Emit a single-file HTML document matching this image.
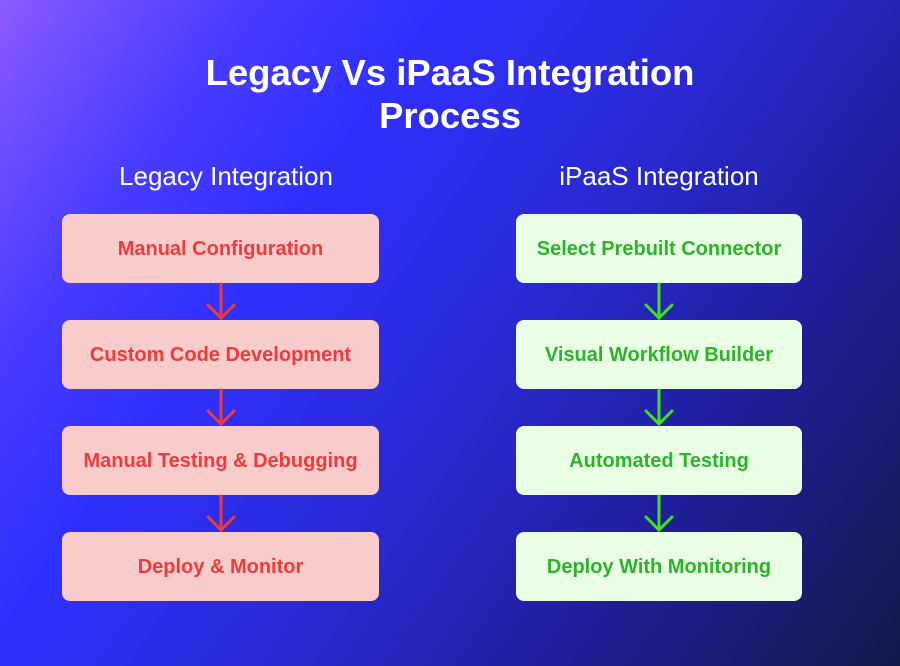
<!DOCTYPE html>
<html><head><meta charset="utf-8"><style>
html,body{margin:0;padding:0}
body{width:900px;height:666px;position:relative;overflow:hidden;font-family:"Liberation Sans",sans-serif;
background:linear-gradient(125deg,#8a5cff 0%,#4a3cff 18%,#3030ff 32%,#2a2ad8 52%,#1f1f9a 75%,#121a48 100%);}
.t{position:absolute;left:0;width:900px;text-align:center;color:#fff;font-weight:bold;font-size:36.5px;line-height:44px}
.s{position:absolute;color:#fff;font-size:26px;line-height:30px;text-align:center;width:400px;top:161px}
.b{position:absolute;height:67px;padding-top:2px;border-radius:8px;display:flex;align-items:center;justify-content:center;font-weight:bold;font-size:20px}
.l{left:62px;width:317px;background:#f9cccc;color:#ee3b3b}
.r{left:516px;width:286px;background:#eafde5;color:#2db42a}
svg{position:absolute;left:0;top:0}
</style></head><body>
<div class="t" style="top:51px">Legacy Vs iPaaS Integration</div>
<div class="t" style="top:94px">Process</div>
<div class="s" style="left:26px">Legacy Integration</div>
<div class="s" style="left:459px">iPaaS Integration</div>
<div class="b l" style="top:214px">Manual Configuration</div>
<div class="b l" style="top:320px">Custom Code Development</div>
<div class="b l" style="top:426px">Manual Testing &amp; Debugging</div>
<div class="b l" style="top:532px">Deploy &amp; Monitor</div>
<div class="b r" style="top:214px">Select Prebuilt Connector</div>
<div class="b r" style="top:320px">Visual Workflow Builder</div>
<div class="b r" style="top:426px">Automated Testing</div>
<div class="b r" style="top:532px">Deploy With Monitoring</div>
<svg width="900" height="666" fill="none" stroke-width="3" stroke-linecap="round">
<g stroke="#ee3b3b">
<path d="M221 284V318M208 305L221 318L234 305"/>
<path d="M221 390V424M208 411L221 424L234 411"/>
<path d="M221 496V530M208 517L221 530L234 517"/>
</g>
<g stroke="#44e01a">
<path d="M659 284V318M646 305L659 318L672 305"/>
<path d="M659 390V424M646 411L659 424L672 411"/>
<path d="M659 496V530M646 517L659 530L672 517"/>
</g>
</svg>
</body></html>
